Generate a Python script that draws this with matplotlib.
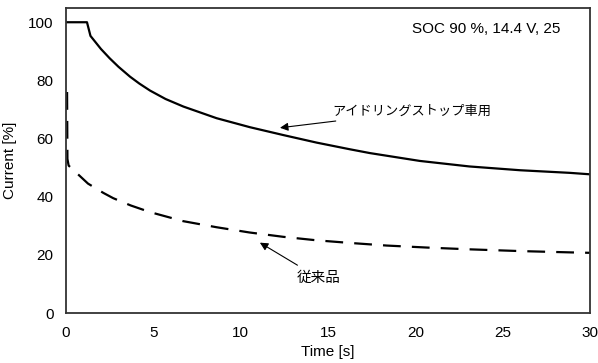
import matplotlib
matplotlib.use("Agg")
import matplotlib.pyplot as plt

# idling-stop battery (solid)
t_idle = [0, 1.2, 1.4, 2.0, 2.5, 3.0, 3.66, 4.2, 4.81, 5.7, 6.72, 8.62,
          10.53, 12.44, 14.35, 16.26, 17.4, 20.26, 23.1, 26.0, 28.85, 30.0]
i_idle = [100, 100, 95.3, 90.8, 87.6, 84.7, 81.3, 78.9, 76.5, 73.6, 71.0,
          67.0, 63.9, 61.2, 58.6, 56.3, 55.0, 52.3, 50.4, 49.1, 48.2, 47.7]

# conventional battery (dashed)
t_conv = [0.06, 0.08, 0.15, 1.26, 2.14, 2.7, 3.7, 4.81, 6.7, 8.62, 10.5,
          12.44, 14.35, 16.26, 18.36, 20.7, 23.1, 26.0, 29.2, 30.0]
i_conv = [76, 53, 50.7, 44.5, 41.3, 39.5, 37.0, 34.7, 31.6, 29.5, 27.7,
          26.2, 25.0, 24.1, 23.2, 22.5, 21.9, 21.3, 20.8, 20.7]

x_ticks = [0, 5, 10, 15, 20, 25, 30]
y_ticks = [0, 20, 40, 60, 80, 100]

label_idle = "アイドリングストップ車用"
label_conv = "従来品"
condition = "SOC 90 %, 14.4 V, 25"

fonts = ['Liberation Sans', 'Noto Sans CJK JP', 'DejaVu Sans']
plt.rcParams['font.family'] = fonts

fig = plt.figure(figsize=(5.98, 3.63), dpi=100)
ax = fig.add_axes([0.1104, 0.1377, 0.8762, 0.8411])

ax.plot(t_idle, i_idle, color='black', lw=1.6)
ax.plot(t_conv, i_conv, color='black', lw=1.6, dashes=(8, 5))

ax.set_xlim(0, 30)
ax.set_ylim(0, 105)
ax.set_xticks(x_ticks)
ax.set_yticks(y_ticks)
ax.tick_params(length=0, labelsize=11, pad=9)

for sp in ax.spines.values():
    sp.set_color('#333333')
    sp.set_linewidth(1.3)

ax.set_xlabel("Time [s]", fontsize=11, labelpad=4)
ax.set_ylabel("Current [%]", fontsize=11, labelpad=8)

ax.text(28.3, 97.6, condition, fontsize=11, ha='right', va='center')

ax.annotate(label_idle, xy=(12.25, 63.7), xytext=(15.25, 69.2),
            fontsize=9.5, ha='left', va='center',
            arrowprops=dict(arrowstyle='-|>', color='black', lw=0.8,
                            mutation_scale=12, shrinkA=2, shrinkB=0))
ax.annotate(label_conv, xy=(11.1, 24.2), xytext=(13.2, 12.1),
            fontsize=10.5, ha='left', va='center',
            arrowprops=dict(arrowstyle='-|>', color='black', lw=0.8,
                            mutation_scale=12, shrinkA=4, shrinkB=0))

plt.savefig('out.png', dpi=100)
